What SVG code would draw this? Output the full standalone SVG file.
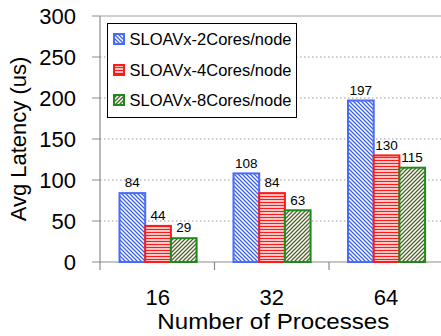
<svg xmlns="http://www.w3.org/2000/svg" width="441" height="336" viewBox="0 0 441 336">
<style>
text{font-family:"Liberation Sans",Arial,sans-serif;fill:#000}
.tick{font-size:22px;text-anchor:end}
.cat{font-size:22px;text-anchor:middle}
.val{font-size:13.5px;text-anchor:middle}
.leg{font-size:16.5px}
.grid{stroke:#9a9a9a;stroke-width:1;stroke-dasharray:1.5 2.5}
.axis{stroke:#8c8c8c;stroke-width:1.2;fill:none}
.b2{fill:url(#pBlue);stroke:#4a6cf5;stroke-width:2}
.b4{fill:url(#pRed);stroke:#ff1a1a;stroke-width:2}
.b8{fill:url(#pGreen);stroke:#1e8a1e;stroke-width:2}
</style>
<defs>
<pattern id="pBlue" patternUnits="userSpaceOnUse" width="4" height="4">
<rect width="4" height="4" fill="#fff"/>
<path d="M0,0L4,4M-1,3L1,5M3,-1L5,1" stroke="#3a62f0" stroke-width="1.3"/>
</pattern>
<pattern id="pRed" patternUnits="userSpaceOnUse" width="4" height="3">
<rect width="4" height="3" fill="#fff"/>
<path d="M0,1.5H4" stroke="#ff1a1a" stroke-width="1.5"/>
</pattern>
<pattern id="pGreen" patternUnits="userSpaceOnUse" width="4" height="4">
<rect width="4" height="4" fill="#fff"/>
<path d="M0,4L4,0M-1,1L1,-1M3,5L5,3" stroke="#4f6228" stroke-width="1.3"/>
</pattern>
</defs>
<rect width="441" height="336" fill="#fff"/>
<g id="grid">
<line class="grid" x1="100" y1="57" x2="441" y2="57"/>
<line class="grid" x1="100" y1="98" x2="441" y2="98"/>
<line class="grid" x1="100" y1="139" x2="441" y2="139"/>
<line class="grid" x1="100" y1="180" x2="441" y2="180"/>
<line class="grid" x1="100" y1="221" x2="441" y2="221"/>
<line x1="100" y1="16" x2="441" y2="16" stroke="#a0a0a0" stroke-width="1"/>
</g>
<g id="axes">
<path class="axis" d="M100,16V262H441"/>
<path class="axis" d="M92,16H100M92,57H100M92,98H100M92,139H100M92,180H100M92,221H100M92,262H100"/>
<path class="axis" d="M100,262V270M214.5,262V270M329,262V270"/>
</g>
<g id="yticks">
<text class="tick" x="76" y="24">300</text>
<text class="tick" x="76" y="65">250</text>
<text class="tick" x="76" y="106">200</text>
<text class="tick" x="76" y="147">150</text>
<text class="tick" x="76" y="188">100</text>
<text class="tick" x="76" y="229">50</text>
<text class="tick" x="76" y="270">0</text>
</g>
<g id="bars">
<g id="g16">
<rect class="b2" x="119.5" y="193.1" width="25.7" height="68.9"/>
<rect class="b4" x="145.2" y="225.9" width="25.7" height="36.1"/>
<rect class="b8" x="170.9" y="238.2" width="25.7" height="23.8"/>
<text class="val" x="132.3" y="187">84</text>
<text class="val" x="158" y="220">44</text>
<text class="val" x="183.7" y="232">29</text>
</g>
<g id="g32">
<rect class="b2" x="233.5" y="173.4" width="25.7" height="88.6"/>
<rect class="b4" x="259.2" y="193.1" width="25.7" height="68.9"/>
<rect class="b8" x="284.9" y="210.3" width="25.7" height="51.7"/>
<text class="val" x="246.3" y="167.5">108</text>
<text class="val" x="272" y="187">84</text>
<text class="val" x="297.7" y="204.5">63</text>
</g>
<g id="g64">
<rect class="b2" x="348" y="100.5" width="25.7" height="161.5"/>
<rect class="b4" x="373.7" y="155.4" width="25.7" height="106.6"/>
<rect class="b8" x="399.4" y="167.7" width="25.7" height="94.3"/>
<text class="val" x="360.8" y="94.5">197</text>
<text class="val" x="386.5" y="149.5">130</text>
<text class="val" x="412" y="161.5">115</text>
</g>
</g>
<g id="xlabels">
<text class="cat" x="157.8" y="305">16</text>
<text class="cat" x="271.8" y="305">32</text>
<text class="cat" x="386" y="305">64</text>
<text x="273.3" y="329" font-size="22" text-anchor="middle" textLength="232" lengthAdjust="spacingAndGlyphs">Number of Processes</text>
<text transform="translate(26,139) rotate(-90)" font-size="22" text-anchor="middle">Avg Latency (us)</text>
</g>
<g id="legend">
<rect x="107.5" y="23.5" width="189" height="94" fill="#fff" stroke="#000" stroke-width="1"/>
<rect class="b2" x="114" y="34" width="10" height="10" stroke-width="1.5"/>
<rect class="b4" x="114" y="65" width="10" height="10" stroke-width="1.5"/>
<rect class="b8" x="114" y="95" width="10" height="10" stroke-width="1.5"/>
<text class="leg" x="129.5" y="45">SLOAVx-2Cores/node</text>
<text class="leg" x="129.5" y="76">SLOAVx-4Cores/node</text>
<text class="leg" x="129.5" y="106">SLOAVx-8Cores/node</text>
</g>
</svg>
